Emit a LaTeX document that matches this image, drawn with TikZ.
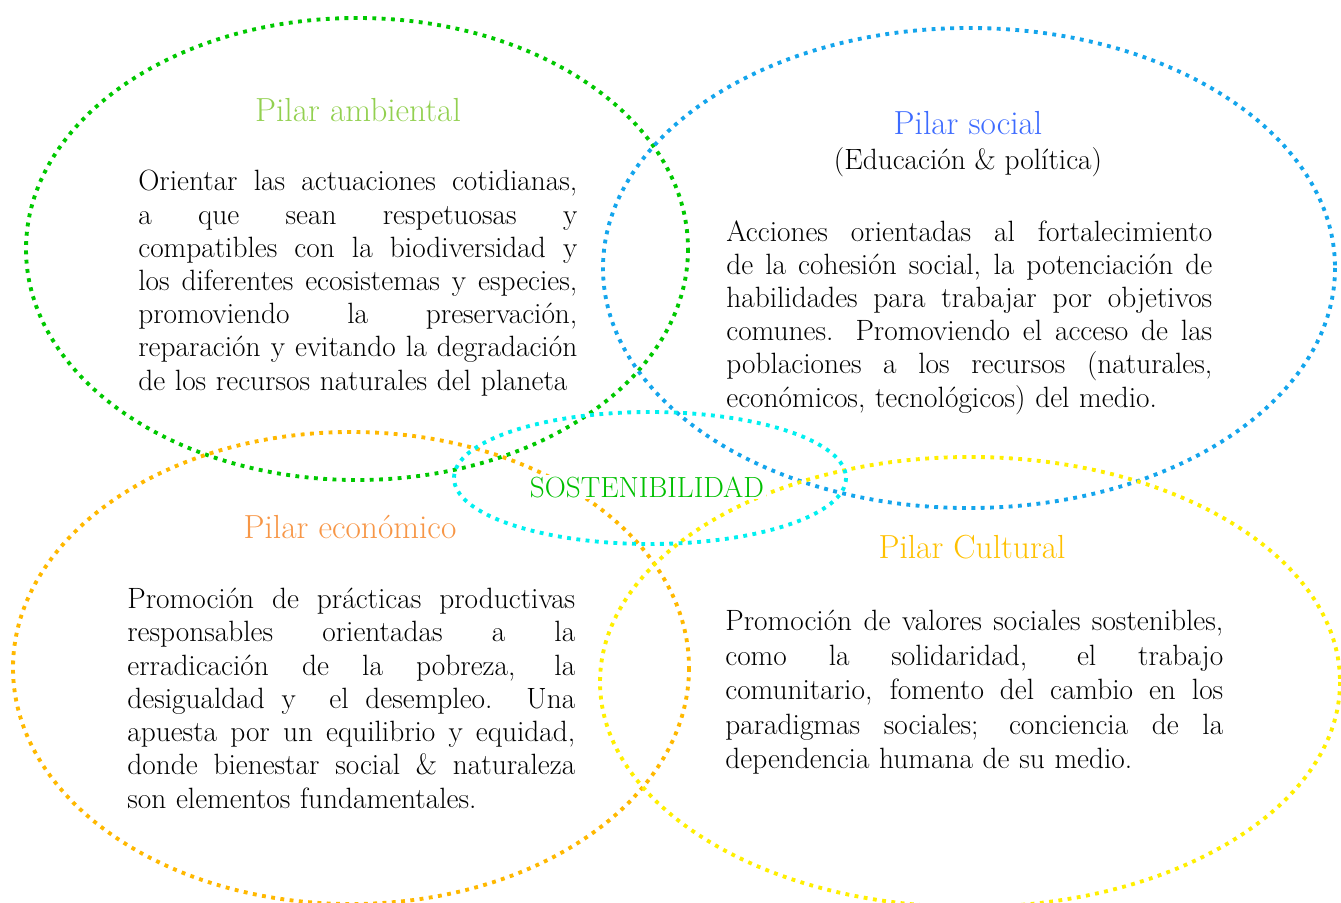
\documentclass[tikz,border=0pt]{standalone}
\usepackage{fontspec}
\usepackage{tikz}
\usetikzlibrary{positioning}
\definecolor{ambring}{HTML}{00C800}
\definecolor{socring}{HTML}{14A5EC}
\definecolor{ecoring}{HTML}{FFB800}
\definecolor{culring}{HTML}{FFEF00}
\definecolor{sosring}{HTML}{00F0F0}
\definecolor{ambtit}{HTML}{92D050}
\definecolor{soctit}{HTML}{3D6BFF}
\definecolor{ecotit}{HTML}{F79646}
\definecolor{cultit}{HTML}{FFC000}
\definecolor{sostit}{HTML}{00C000}
\newcommand\cuerpoajuste{\hyphenpenalty=10000 \tolerance=10000
  \spaceskip=0.33em plus 0.6em minus 0.2em\relax}

\begin{document}
\begin{tikzpicture}[
      x=0.02cm,y=-0.02cm,
      ring/.style={
         line width=2.2pt,
         dash pattern=on 2.2pt off 3.1pt,
         draw=#1
      },
      titulo/.style={
         anchor=base,
         inner sep=0pt,
         font=\fontsize{19}{22}\selectfont,
         text=#1
      },
      cuerpo/.style={
         anchor=north west,
         inner sep=0pt,
         text width=#1,
         align=justify,
         font=\fontsize{16.7}{18.9}\selectfont,
         execute at begin node=\cuerpoajuste
      },
      %text height=1.5ex,text depth=.25ex
    ]
    \useasboundingbox (0,0) rectangle (1341,902);
    \draw[ring=ambring] (357,249) ellipse [x radius=331,y radius=231];
    \draw[ring=socring] (969,268) ellipse [x radius=366,y radius=240];
    \draw[ring=ecoring] (351,668) ellipse [x radius=338,y radius=236];
    \draw[ring=culring] (970,682) ellipse [x radius=370,y radius=225];
    \draw[ring=sosring] (650,478) ellipse [x radius=196,y radius=66];

    \node (ambtitulo) [titulo=ambtit] at (358,122) {Pilar ambiental};
    \node (ambtexto) [cuerpo=8.78cm] at (138,170) {Orientar las actuaciones cotidianas,\linebreak
      a que sean respetuosas y\linebreak
      compatibles con la biodiversidad y\linebreak
      los diferentes ecosistemas y especies,\linebreak
      promoviendo la preservación,\linebreak
      reparación y evitando la degradación\linebreak
      de los recursos naturales del planeta};

    \node (soctitulo) [titulo=soctit] at (968,135) {Pilar social};
    \node (socsub) [anchor=base,inner sep=0pt,font=\fontsize{16.7}{19}\selectfont] at (968,170) {(Educación \& política)};
    \node (soctexto) [cuerpo=9.72cm] at (726,220) {Acciones orientadas al fortalecimiento\linebreak
      de la cohesión social, la potenciación de\linebreak
      habilidades para trabajar por objetivos\linebreak
      comunes. Promoviendo el acceso de las\linebreak
      poblaciones a los recursos (naturales,\linebreak
      económicos, tecnológicos) del medio.};

    \node (ecotitulo) [titulo=ecotit] at (350,538) {Pilar económico};
    \node (ecotexto) [cuerpo=8.96cm] at (127,588) {Promoción de prácticas productivas\linebreak
      responsables orientadas a la\linebreak
      erradicación de la pobreza, la\linebreak
      desigualdad y\ \ el desempleo. Una\linebreak
      apuesta por un equilibrio y equidad,\linebreak
      donde bienestar social \& naturaleza\linebreak
      son elementos fundamentales.};

    \node (cultitulo) [titulo=cultit] at (972,558) {Pilar Cultural};
    \node (cultexto) [cuerpo=9.96cm,font=\fontsize{16.7}{19.6}\selectfont] at (725,610) {Promoción de valores sociales sostenibles,\linebreak
      como la solidaridad, el trabajo\linebreak
      comunitario, fomento del cambio en los\linebreak
      paradigmas sociales; conciencia de la\linebreak
      dependencia humana de su medio.};

    \node (sostenibilidad) [anchor=base,fill=white,inner sep=1pt,text=sostit,font=\fontsize{16.6}{18}\selectfont] at (647,497) {SOSTENIBILIDAD};
\end{tikzpicture}
\end{document}
